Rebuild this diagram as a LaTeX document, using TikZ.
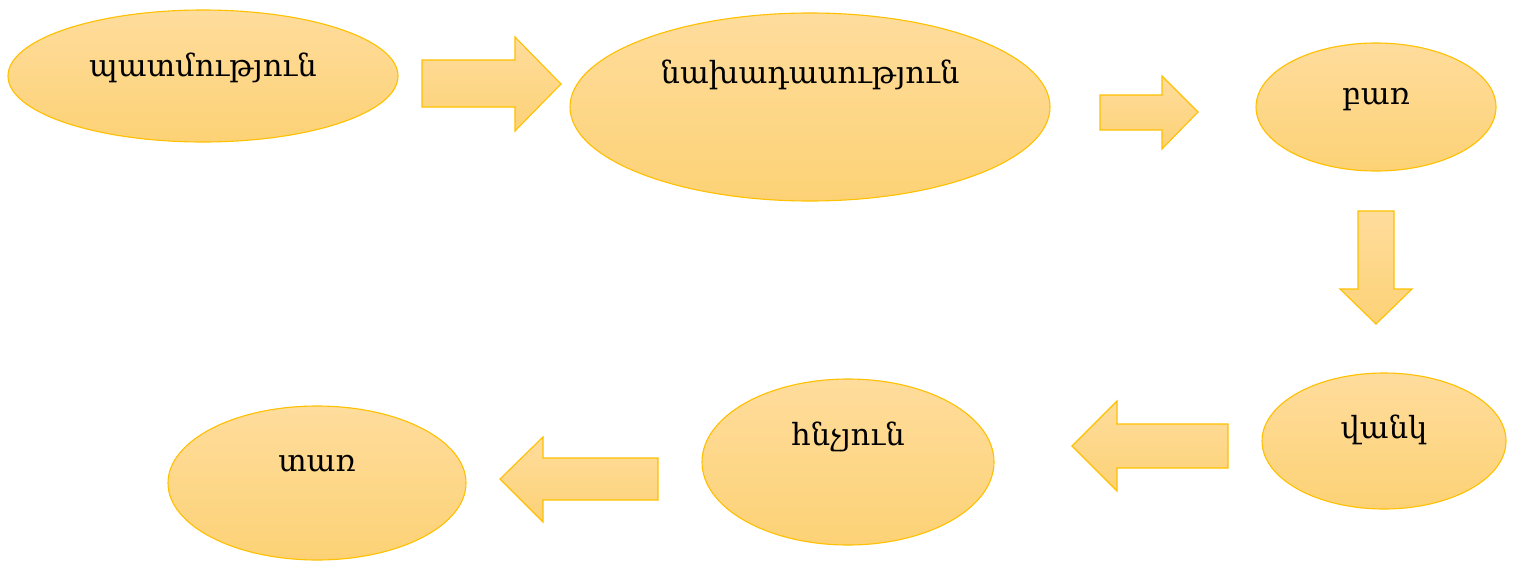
\documentclass[tikz,border=0pt]{standalone}
\usepackage{fontspec}
\setmainfont{DejaVu Serif}
\usetikzlibrary{shapes.geometric}
\definecolor{stagetop}{HTML}{FEDC9C}
\definecolor{stagebot}{HTML}{FDD276}
\definecolor{stageline}{HTML}{FFC000}
\tikzset{
  stage/.style={ellipse, draw=stageline, line width=1.1pt, top color=stagetop, bottom color=stagebot, inner sep=0pt},
  stagetext/.style={font=\fontsize{30.5}{33}\selectfont, text=black},
  blockarrow/.style={draw=stageline, line width=1.1pt, top color=stagetop, bottom color=stagebot}
}
\begin{document}
\begin{tikzpicture}[x=1pt,y=-1pt]
\useasboundingbox (0,0) rectangle (1517,560);
% the stages
\node[stage, minimum width=390pt, minimum height=132pt] (story) at (203,76) {};
\node[stage, minimum width=480pt, minimum height=188pt] (sentence) at (810,107) {};
\node[stage, minimum width=240pt, minimum height=128pt] (word) at (1376,107) {};
\node[stage, minimum width=244pt, minimum height=136pt] (syllable) at (1384,441) {};
\node[stage, minimum width=292pt, minimum height=166pt] (sound) at (848,462) {};
\node[stage, minimum width=298pt, minimum height=154pt] (letter) at (317,483) {};
% the labels
\node[stagetext] at ([yshift=8pt]story.center) {պատմություն};
\node[stagetext] at ([yshift=32pt]sentence.center) {նախադասություն};
\node[stagetext] at ([yshift=7pt]word.center) {բառ};
\node[stagetext] at ([yshift=11pt]syllable.center) {վանկ};
\node[stagetext] at ([yshift=25pt]sound.center) {հնչյուն};
\node[stagetext] at ([yshift=19pt]letter.center) {տառ};
% the arrows
\draw[blockarrow] (422,60) -- (515,60) -- (515,37) -- (561,84) -- (515,131) -- (515,107) -- (422,107) -- cycle;
\draw[blockarrow] (1100,95) -- (1162,95) -- (1162,76) -- (1198,112) -- (1162,149) -- (1162,130) -- (1100,130) -- cycle;
\draw[blockarrow] (1358,211) -- (1394,211) -- (1394,289) -- (1412,289) -- (1376,324) -- (1340,289) -- (1358,289) -- cycle;
\draw[blockarrow] (1228,424) -- (1117,424) -- (1117,401) -- (1072,446) -- (1117,491) -- (1117,468) -- (1228,468) -- cycle;
\draw[blockarrow] (658,458) -- (543,458) -- (543,437) -- (500,479) -- (543,522) -- (543,500) -- (658,500) -- cycle;
\end{tikzpicture}
\end{document}
